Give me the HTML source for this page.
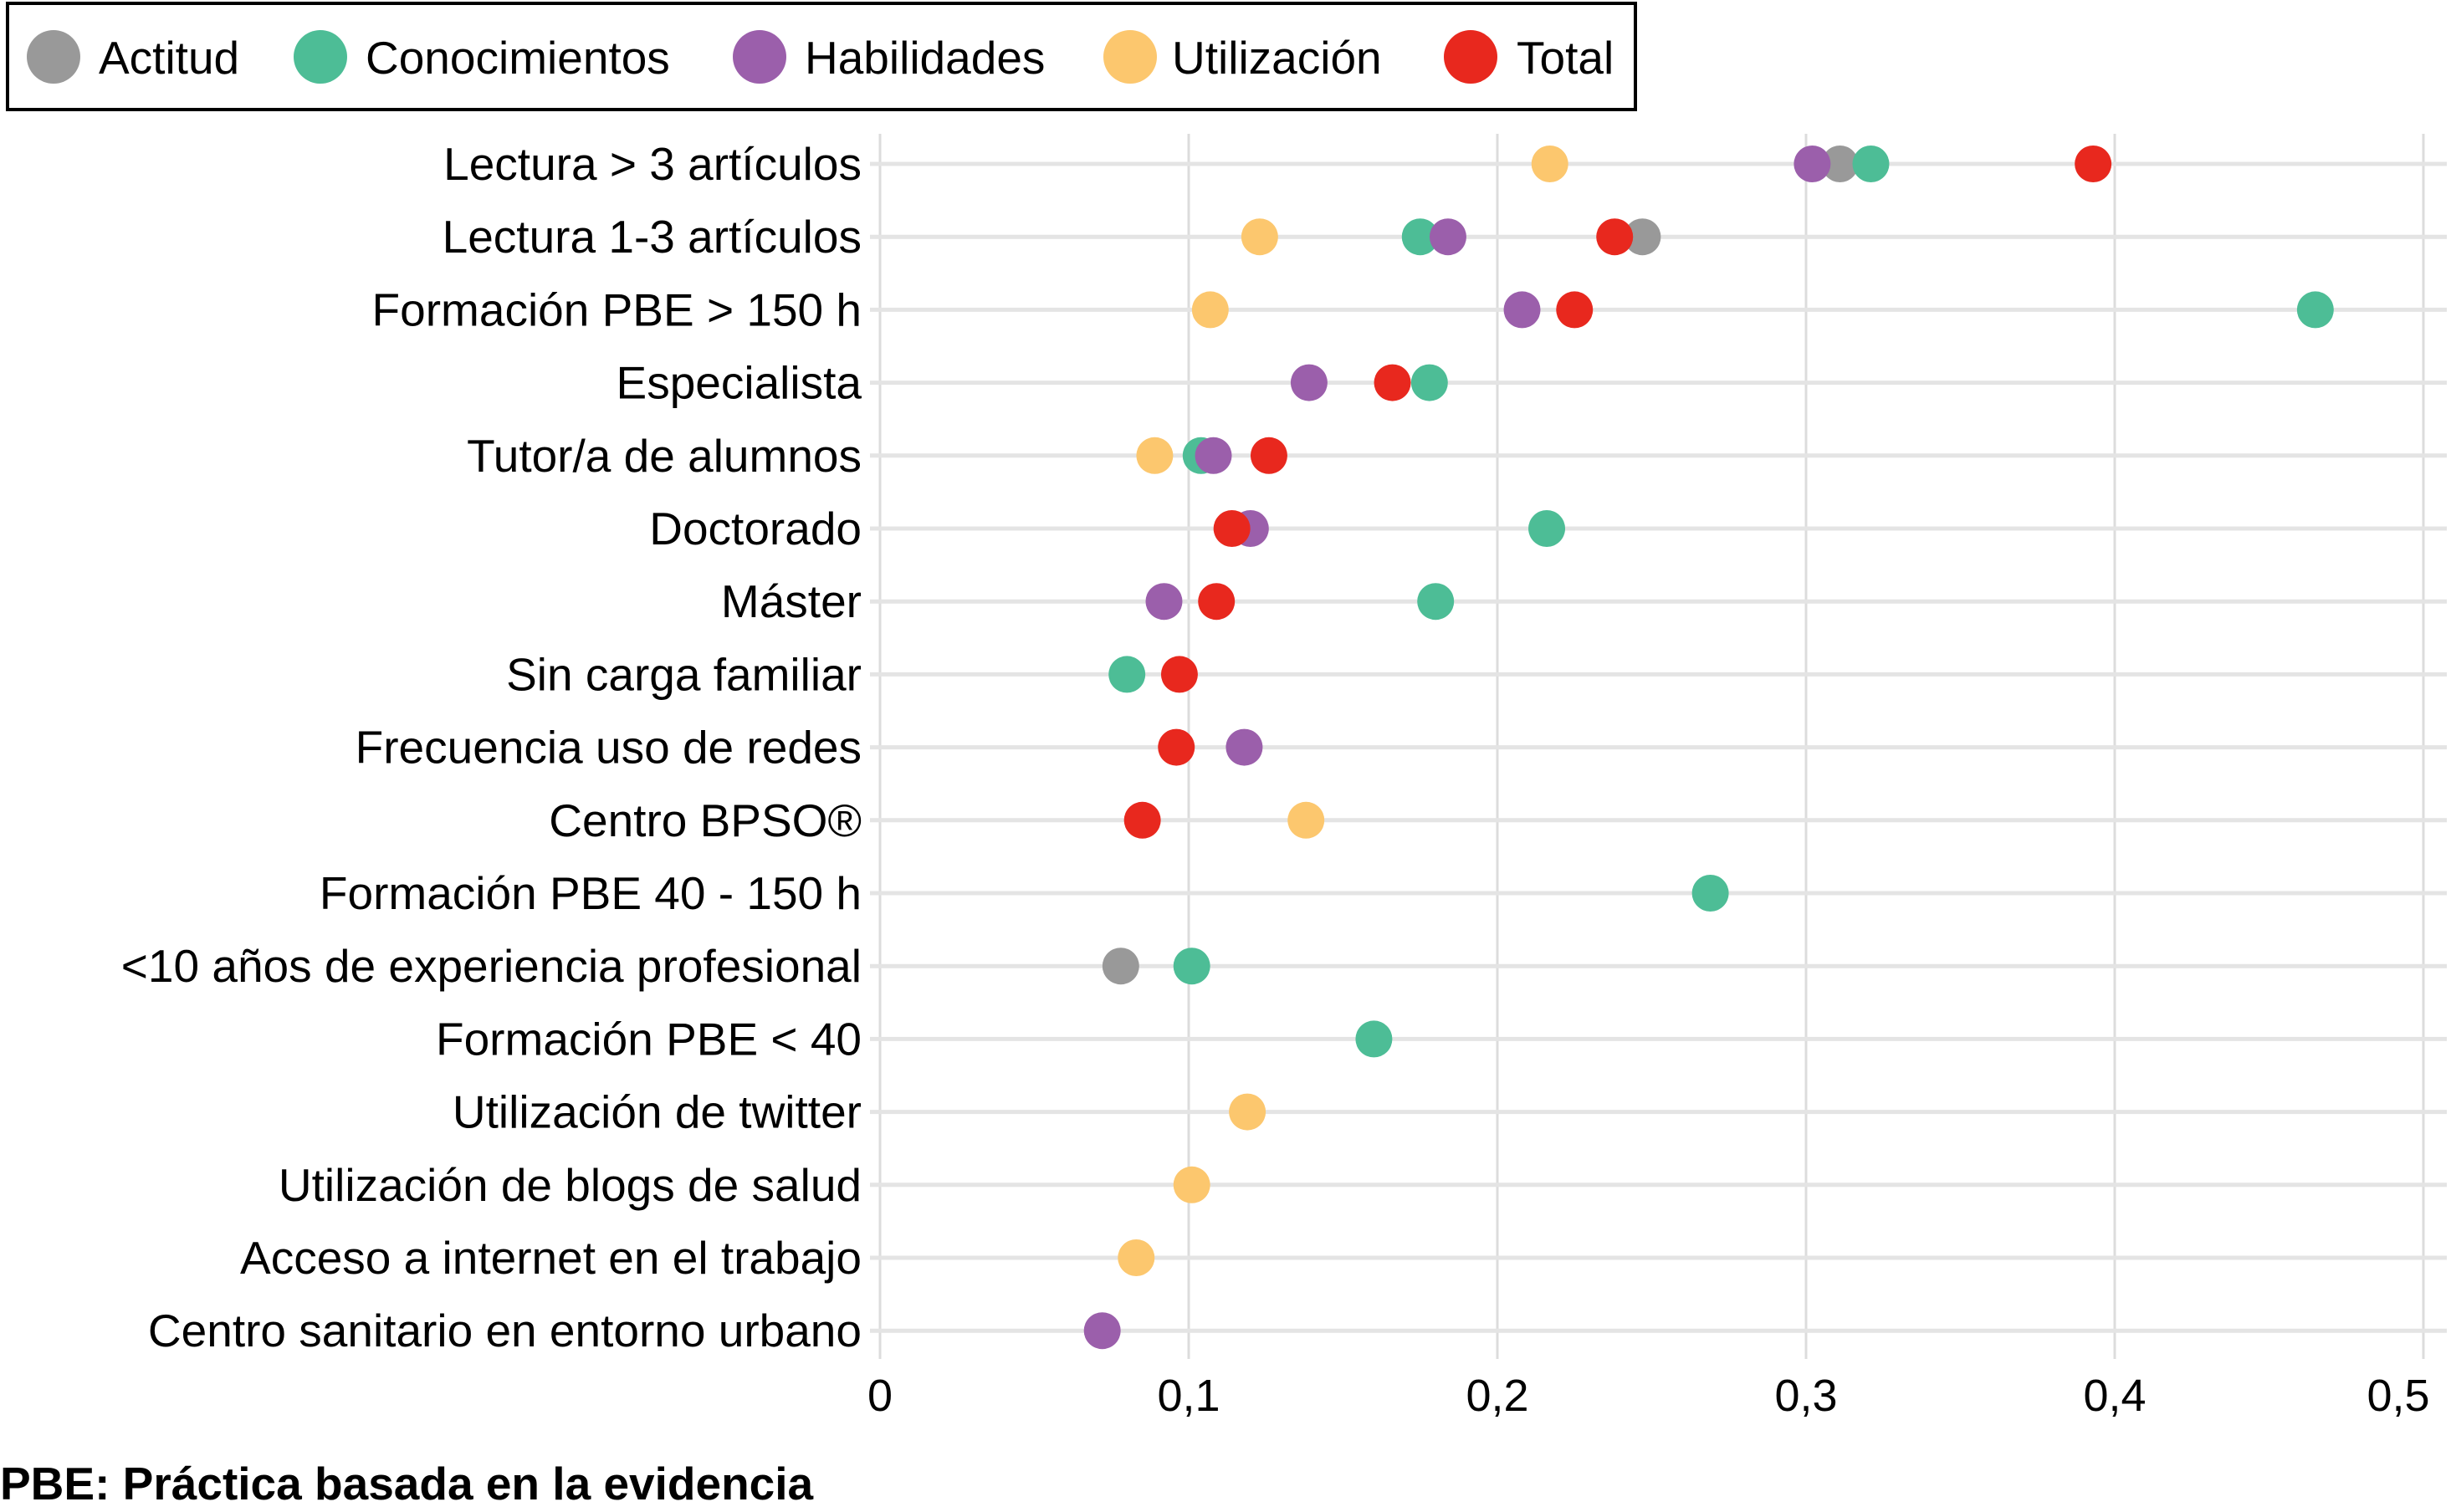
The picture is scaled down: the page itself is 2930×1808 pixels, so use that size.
<!DOCTYPE html>
<html><head><meta charset="utf-8"><style>
html,body{margin:0;padding:0;background:#fff;}
svg{display:block;font-family:"Liberation Sans",sans-serif;}
</style></head><body>
<svg id="chart" width="2930" height="1808" viewBox="0 0 2930 1808">
<g id="legend">
<rect x="9" y="4" width="1946" height="127" fill="#fff" stroke="#000" stroke-width="4"/>
</g>
<g id="grid"></g>
<g id="labels"></g>
<g id="ticks"></g>
<g id="dots"></g>
<text x="0" y="1793" font-size="55" font-weight="bold" fill="#000">PBE: Práctica basada en la evidencia</text>
</svg>
<script>
const categories = ["Lectura > 3 artículos","Lectura 1-3 artículos","Formación PBE > 150 h","Especialista","Tutor/a de alumnos","Doctorado","Máster","Sin carga familiar","Frecuencia uso de redes","Centro BPSO®","Formación PBE 40 - 150 h","<10 años de experiencia profesional","Formación PBE < 40","Utilización de twitter","Utilización de blogs de salud","Acceso a internet en el trabajo","Centro sanitario en entorno urbano"];
const seriesNames = ["Actitud","Conocimientos","Habilidades","Utilización","Total"];
const seriesColors = ["#999999","#4dbd96","#9b5fab","#fcc76e","#e8281e"];
const actitud =       [0.311,0.247,null,null,null,null,null,null,null,null,null,0.078,null,null,null,null,null];
const conocimientos = [0.321,0.175,0.465,0.178,0.104,0.216,0.180,0.080,null,null,0.269,0.101,0.160,null,null,null,null];
const habilidades =   [0.302,0.184,0.208,0.139,0.108,0.120,0.092,null,0.118,null,null,null,null,null,null,null,0.072];
const utilizacion =   [0.217,0.123,0.107,null,0.089,null,null,null,null,0.138,null,null,null,0.119,0.101,0.083,null];
const total =         [0.393,0.238,0.225,0.166,0.126,0.114,0.109,0.097,0.096,0.085,null,null,null,null,null,null,null];
const xTicks = [0,0.1,0.2,0.3,0.4,0.5];
const xTickLabels = ["0","0,1","0,2","0,3","0,4","0,5"];

const NS="http://www.w3.org/2000/svg";
const x0=1052, xPer=3690, yTop=196, yStep=87.2;
const xs=v=>x0+v*xPer;
const ys=i=>yTop+i*yStep;
function mk(tag,attrs,parent){const e=document.createElementNS(NS,tag);for(const k in attrs)e.setAttribute(k,attrs[k]);parent.appendChild(e);return e;}

const grid=document.getElementById('grid');
xTicks.forEach((t,i)=>{
  const l=mk('line',{x1:xs(t),x2:xs(t),y1:160,y2:1625,stroke:'#dcdcdc','stroke-width':3},grid);
  
  
  const tx=mk('text',{x:xs(t)-(i===5?30:0),y:1687,'font-size':54,'text-anchor':'middle',fill:'#000'},document.getElementById('ticks'));
  tx.textContent=xTickLabels[i];
  
  
});
categories.forEach((c,i)=>{
  const l=mk('line',{x1:1040,x2:2925,y1:ys(i),y2:ys(i),stroke:'#e4e4e4','stroke-width':5},grid);
  
  
  const t=mk('text',{x:1030,y:ys(i)+19,'font-size':55,'text-anchor':'end',fill:'#000'},document.getElementById('labels'));
  t.textContent=c;
  
  
});
const all=[actitud,conocimientos,habilidades,utilizacion,total];
const dots=document.getElementById('dots');
all.forEach((arr,s)=>{
  arr.forEach((v,i)=>{
    if(v===null)return;
    const c=mk('circle',{cx:xs(v),cy:ys(i),r:22,fill:seriesColors[s]},dots);
    
    
  });
});
const legend=document.getElementById('legend');
const lgDot=[64,383,908,1351,1758], lgTxt=[118,437,962,1401,1813];
seriesNames.forEach((n,s)=>{
  const c=mk('circle',{cx:lgDot[s],cy:68,r:32,fill:seriesColors[s]},legend);
  
  
  const t=mk('text',{x:lgTxt[s],y:88,'font-size':55,fill:'#000'},legend);
  t.textContent=n;
  
  
});
</script>
</body></html>
